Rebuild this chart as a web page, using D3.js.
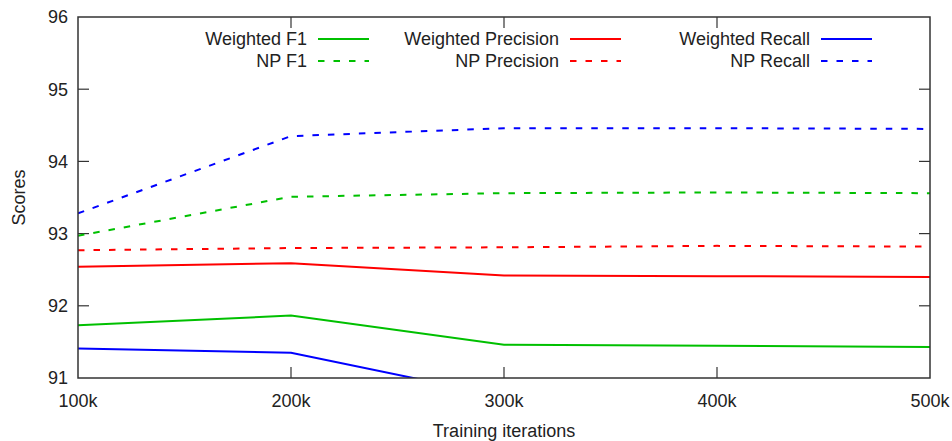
<!DOCTYPE html>
<html>
<head>
<meta charset="utf-8">
<script src="https://cdn.jsdelivr.net/npm/d3@7"></script>
<style>
  body { margin: 0; background: #fff; }
  text { font-family: "Liberation Sans", Arial, sans-serif; fill: #222; }
</style>
</head>
<body>
<div id="chart"></div>
<script>
var width = 952,
    height = 441;

// data
var iterations = [100, 200, 300, 400, 500];
var xTickLabels = ["100k", "200k", "300k", "400k", "500k"];
var yTicks = [91, 92, 93, 94, 95, 96];

var weightedF1        = [91.73, 91.865, 91.46, 91.445, 91.43];
var npF1              = [92.97, 93.51, 93.56, 93.57, 93.56];
var weightedPrecision = [92.54, 92.59, 92.42, 92.41, 92.40];
var npPrecision       = [92.77, 92.80, 92.81, 92.83, 92.82];
var weightedRecall    = [91.41, 91.35, 90.74, 90.72, 90.70];
var npRecall          = [93.28, 94.35, 94.46, 94.46, 94.45];

var series = [
  { name: "Weighted F1",        values: weightedF1,        color: "#00c000", dashed: false, col: 0, row: 0 },
  { name: "NP F1",              values: npF1,              color: "#00c000", dashed: true,  col: 0, row: 1 },
  { name: "Weighted Precision", values: weightedPrecision, color: "#ff0000", dashed: false, col: 1, row: 0 },
  { name: "NP Precision",       values: npPrecision,       color: "#ff0000", dashed: true,  col: 1, row: 1 },
  { name: "Weighted Recall",    values: weightedRecall,    color: "#0000ff", dashed: false, col: 2, row: 0 },
  { name: "NP Recall",          values: npRecall,          color: "#0000ff", dashed: true,  col: 2, row: 1 }
];

var margin = { left: 78, right: 22, top: 17, bottom: 63 };
var plotW = width - margin.left - margin.right,
    plotH = height - margin.top - margin.bottom;
var fontSize = "18px";

var x = d3.scaleLinear().domain([100, 500]).range([0, plotW]);
var y = d3.scaleLinear().domain([91, 96]).range([plotH, 0]);

var svg = d3.select("#chart").append("svg")
    .attr("width", width)
    .attr("height", height);

svg.append("defs").append("clipPath").attr("id", "clip")
  .append("rect").attr("width", plotW).attr("height", plotH);

var g = svg.append("g")
    .attr("transform", "translate(" + margin.left + "," + margin.top + ")");

// inward ticks on all four sides (gnuplot style mirror)
var tickLen = 11;
var axisColor = "#333";

g.selectAll(".ytick-l").data(yTicks.slice(1, -1)).enter().append("line")
    .attr("x1", 0).attr("x2", tickLen)
    .attr("y1", d => y(d)).attr("y2", d => y(d))
    .attr("stroke", axisColor).attr("stroke-width", 1.2);
g.selectAll(".ytick-r").data(yTicks.slice(1, -1)).enter().append("line")
    .attr("x1", plotW - tickLen).attr("x2", plotW)
    .attr("y1", d => y(d)).attr("y2", d => y(d))
    .attr("stroke", axisColor).attr("stroke-width", 1.2);
g.selectAll(".xtick-b").data(iterations.slice(1, -1)).enter().append("line")
    .attr("x1", d => x(d)).attr("x2", d => x(d))
    .attr("y1", plotH).attr("y2", plotH - tickLen)
    .attr("stroke", axisColor).attr("stroke-width", 1.2);
g.selectAll(".xtick-t").data(iterations.slice(1, -1)).enter().append("line")
    .attr("x1", d => x(d)).attr("x2", d => x(d))
    .attr("y1", 0).attr("y2", tickLen)
    .attr("stroke", axisColor).attr("stroke-width", 1.2);

// tick labels
g.selectAll(".ylab").data(yTicks).enter().append("text")
    .attr("x", -10).attr("y", d => y(d))
    .attr("dy", "0.35em")
    .attr("text-anchor", "end")
    .style("font-size", fontSize)
    .text(d => d);

g.selectAll(".xlab").data(iterations).enter().append("text")
    .attr("x", d => x(d)).attr("y", plotH + 29)
    .attr("text-anchor", "middle")
    .style("font-size", fontSize)
    .text((d, i) => xTickLabels[i]);

// axis titles
svg.append("text")
    .attr("transform", "translate(25," + (margin.top + plotH / 2) + ") rotate(-90)")
    .attr("text-anchor", "middle")
    .style("font-size", fontSize)
    .text("Scores");

svg.append("text")
    .attr("x", margin.left + plotW / 2).attr("y", 437)
    .attr("text-anchor", "middle")
    .style("font-size", fontSize)
    .text("Training iterations");

// lines
var line = d3.line()
    .x((d, i) => x(iterations[i]))
    .y(d => y(d));

var lines = g.append("g").attr("clip-path", "url(#clip)");
series.forEach(function(s) {
  lines.append("path")
    .datum(s.values)
    .attr("d", line)
    .attr("fill", "none")
    .attr("stroke", s.color)
    .attr("stroke-width", 2)
    .attr("stroke-dasharray", s.dashed ? "6.5,9" : null);
});

// frame
g.append("rect")
    .attr("width", plotW).attr("height", plotH)
    .attr("fill", "none")
    .attr("stroke", axisColor)
    .attr("stroke-width", 1.5);

// legend
var colTextEnd = [307, 559, 810],
    rowY = [39, 61];
var legend = svg.append("g");
series.forEach(function(s) {
  var tx = colTextEnd[s.col], ty = rowY[s.row];
  legend.append("text")
    .attr("x", tx).attr("y", ty).attr("dy", "0.35em")
    .attr("text-anchor", "end")
    .style("font-size", fontSize)
    .text(s.name);
  legend.append("line")
    .attr("x1", tx + 11).attr("x2", tx + 62)
    .attr("y1", ty).attr("y2", ty)
    .attr("stroke", s.color)
    .attr("stroke-width", 2)
    .attr("stroke-dasharray", s.dashed ? "6.5,9" : null);
});
</script>
</body>
</html>
